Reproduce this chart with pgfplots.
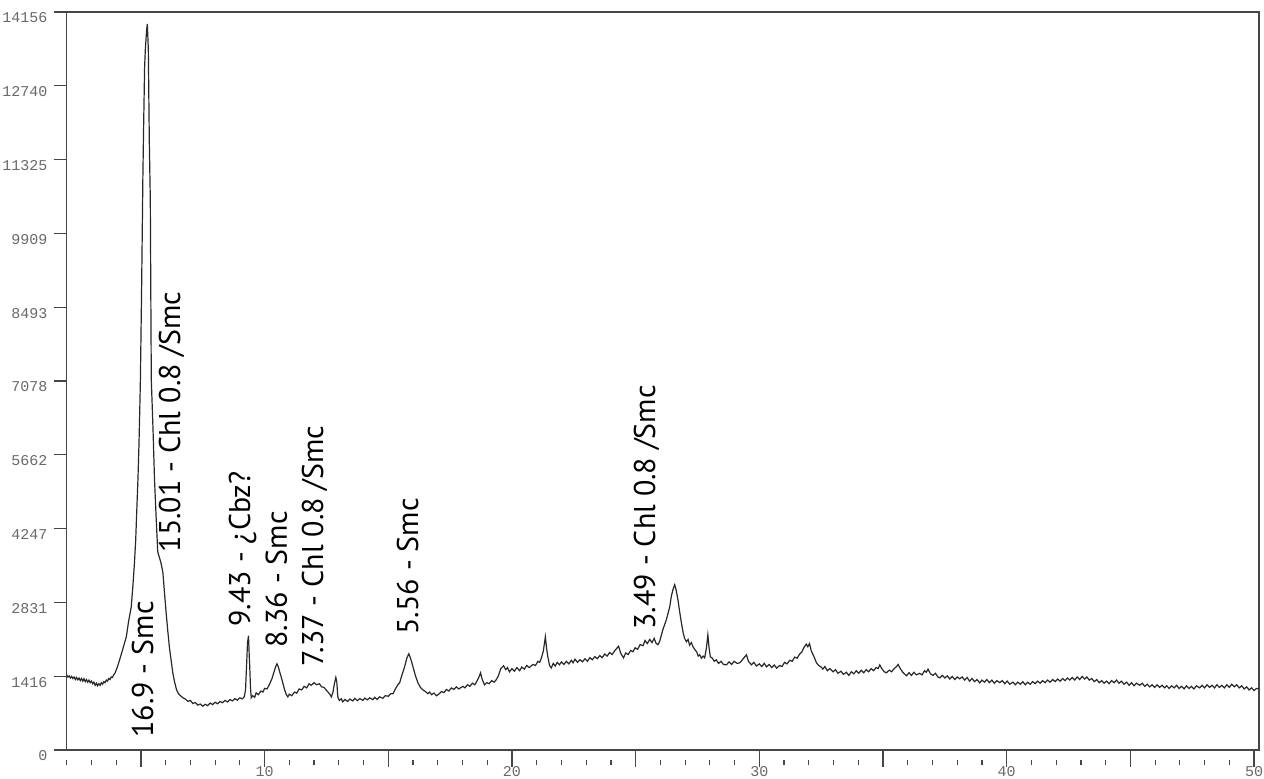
\documentclass[border=0pt]{standalone}
\usepackage{fontspec}
\usepackage{pgfplots}
\usepackage{pgfplotstable}
\pgfplotsset{compat=1.18}
\setmainfont{PT Sans}
\newfontfamily\monof{Liberation Mono}
\definecolor{tickgray}{RGB}{105,105,105}
\definecolor{axgray}{RGB}{70,70,70}
\definecolor{trace}{RGB}{40,40,40}

% 2theta (deg) vs counts
\pgfplotstableread{
x y
2.00 1440
2.05 1395
2.10 1420
2.15 1380
2.20 1410
2.25 1370
2.30 1400
2.35 1350
2.40 1390
2.45 1345
2.50 1380
2.55 1330
2.60 1370
2.65 1320
2.70 1365
2.75 1310
2.80 1350
2.85 1300
2.90 1340
2.95 1290
3.00 1320
3.05 1270
3.10 1300
3.15 1240
3.20 1280
3.25 1230
3.30 1270
3.35 1240
3.40 1290
3.45 1260
3.50 1310
3.55 1290
3.60 1340
3.65 1320
3.70 1370
3.75 1350
3.80 1400
3.85 1390
3.90 1440
3.95 1470
4.00 1530
4.05 1594
4.14 1729
4.26 1921
4.41 2171
4.50 2459
4.61 2747
4.68 3170
4.74 3592
4.79 4034
4.83 4553
4.88 5187
4.92 5821
4.95 6435
4.98 7108
5.03 8900
5.08 11000
5.11 11965
5.15 13100
5.18 13447
5.23 13800
5.26 13927
5.30 13447
5.34 11660
5.38 10566
5.40 8800
5.42 7108
5.49 6147
5.55 5187
5.62 4418
5.68 3804
5.75 3688
5.81 3592
5.89 3400
5.95 3035
6.02 2632
6.09 2267
6.15 1979
6.23 1690
6.29 1479
6.36 1306
6.44 1153
6.52 1076
6.60 1040
6.70 1000
6.80 975
6.90 930
7.00 950
7.10 890
7.20 910
7.30 860
7.40 880
7.50 840
7.60 875
7.70 850
7.80 900
7.90 870
8.00 915
8.10 885
8.20 930
8.30 905
8.40 950
8.50 920
8.60 965
8.70 940
8.80 985
8.90 955
9.00 1000
9.10 980
9.18 1020
9.23 1153
9.27 1600
9.31 2056
9.35 2190
9.38 1800
9.40 1594
9.43 1200
9.46 1000
9.52 1040
9.60 1010
9.66 1095
9.75 1060
9.85 1130
9.93 1110
10.00 1180
10.10 1170
10.20 1260
10.30 1370
10.37 1479
10.45 1600
10.50 1652
10.55 1600
10.62 1480
10.67 1402
10.74 1280
10.81 1153
10.88 1060
10.94 1018
11.00 1070
11.10 1040
11.21 1110
11.30 1090
11.40 1170
11.50 1150
11.60 1220
11.70 1190
11.80 1270
11.89 1240
12.00 1290
12.10 1250
12.22 1270
12.30 1210
12.40 1200
12.49 1150
12.58 1100
12.65 1060
12.70 1018
12.76 1100
12.83 1287
12.88 1390
12.92 1300
12.96 1018
13.02 950
13.10 980
13.16 922
13.25 970
13.35 930
13.45 975
13.57 940
13.65 990
13.75 945
13.85 985
13.97 950
14.05 995
14.15 960
14.25 1000
14.38 965
14.45 1010
14.55 970
14.65 1020
14.78 990
14.88 1040
15.00 1030
15.10 1080
15.19 1076
15.30 1180
15.40 1260
15.46 1287
15.56 1450
15.66 1594
15.75 1760
15.83 1844
15.90 1760
16.00 1594
16.10 1420
16.20 1287
16.30 1200
16.40 1153
16.50 1120
16.60 1080
16.67 1110
16.75 1060
16.85 1090
16.95 1040
17.07 1080
17.15 1120
17.25 1100
17.35 1160
17.45 1130
17.55 1190
17.65 1160
17.75 1210
17.85 1170
18.02 1220
18.10 1190
18.20 1250
18.30 1220
18.40 1280
18.50 1250
18.56 1300
18.65 1380
18.73 1479
18.80 1350
18.89 1249
18.98 1290
19.08 1270
19.18 1330
19.28 1300
19.37 1350
19.45 1420
19.55 1560
19.66 1614
19.75 1540
19.82 1580
19.90 1498
20.00 1560
20.10 1510
20.20 1580
20.31 1520
20.40 1590
20.50 1550
20.60 1620
20.70 1580
20.85 1640
20.95 1620
21.05 1700
21.12 1680
21.19 1760
21.27 1900
21.35 2171
21.40 1950
21.45 1787
21.52 1620
21.59 1575
21.67 1660
21.75 1610
21.83 1680
21.92 1633
22.00 1690
22.10 1640
22.20 1700
22.30 1650
22.40 1720
22.47 1671
22.55 1740
22.65 1680
22.75 1730
22.85 1690
22.95 1750
23.05 1700
23.15 1770
23.25 1730
23.35 1790
23.45 1750
23.55 1810
23.65 1770
23.75 1840
23.85 1800
23.95 1870
24.05 1830
24.15 1900
24.22 1940
24.31 1990
24.40 1850
24.51 1767
24.60 1860
24.70 1830
24.80 1910
24.89 1883
24.98 1960
25.08 1930
25.18 2020
25.30 2000
25.38 2100
25.47 2040
25.57 2120
25.66 2060
25.75 2140
25.82 2050
25.90 2017
25.97 2080
26.04 2200
26.10 2305
26.17 2400
26.24 2497
26.31 2620
26.38 2747
26.44 2939
26.51 3080
26.58 3170
26.64 3060
26.71 2882
26.78 2650
26.85 2440
26.92 2250
26.98 2140
27.05 2075
27.12 2120
27.18 2010
27.25 2060
27.32 1979
27.40 1920
27.47 1880
27.53 1800
27.59 1825
27.66 1760
27.73 1800
27.79 1767
27.86 1950
27.92 2209
27.97 1950
28.02 1787
28.10 1760
28.18 1700
28.26 1729
28.35 1660
28.45 1700
28.55 1640
28.67 1633
28.78 1690
28.88 1640
28.98 1700
29.10 1660
29.21 1671
29.30 1720
29.40 1780
29.48 1825
29.56 1700
29.68 1633
29.78 1680
29.88 1610
30.00 1650
30.10 1600
30.20 1660
30.29 1594
30.40 1640
30.50 1580
30.60 1630
30.70 1570
30.82 1620
30.92 1600
31.02 1680
31.12 1650
31.23 1720
31.33 1700
31.43 1780
31.53 1760
31.63 1840
31.72 1880
31.80 1960
31.90 2030
31.96 1980
32.03 2040
32.10 1900
32.20 1800
32.31 1671
32.40 1620
32.50 1590
32.57 1550
32.65 1600
32.75 1520
32.85 1560
32.98 1498
33.08 1540
33.18 1470
33.30 1510
33.40 1450
33.52 1490
33.62 1430
33.72 1500
33.82 1460
33.92 1520
34.02 1470
34.12 1530
34.22 1480
34.32 1540
34.42 1500
34.52 1560
34.62 1520
34.72 1580
34.80 1560
34.87 1630
34.95 1560
35.05 1500
35.14 1479
35.25 1530
35.35 1500
35.45 1560
35.55 1600
35.61 1640
35.70 1560
35.80 1490
35.95 1422
36.05 1480
36.15 1430
36.25 1490
36.35 1440
36.48 1470
36.58 1440
36.68 1520
36.75 1490
36.82 1550
36.92 1460
37.02 1430
37.12 1470
37.22 1400
37.30 1383
37.40 1430
37.50 1380
37.60 1420
37.70 1360
37.80 1410
37.90 1350
38.00 1400
38.10 1364
38.20 1400
38.30 1340
38.40 1390
38.50 1320
38.60 1370
38.70 1310
38.80 1350
38.91 1287
39.00 1340
39.10 1300
39.20 1350
39.30 1290
39.40 1340
39.50 1280
39.60 1330
39.72 1290
39.82 1330
39.92 1270
40.02 1320
40.12 1260
40.25 1300
40.35 1250
40.45 1300
40.55 1260
40.65 1310
40.75 1250
40.85 1300
40.95 1260
41.05 1310
41.15 1270
41.25 1320
41.35 1280
41.45 1330
41.55 1290
41.65 1340
41.75 1300
41.86 1350
41.96 1310
42.06 1360
42.16 1320
42.26 1370
42.36 1330
42.46 1380
42.55 1340
42.65 1390
42.75 1340
42.85 1400
42.95 1350
43.05 1410
43.15 1360
43.24 1400
43.34 1340
43.44 1370
43.54 1310
43.64 1350
43.74 1290
43.84 1330
43.94 1280
44.04 1320
44.14 1270
44.24 1330
44.34 1290
44.44 1340
44.54 1280
44.64 1320
44.74 1260
44.85 1300
44.95 1240
45.05 1290
45.15 1230
45.25 1280
45.38 1240
45.48 1280
45.58 1220
45.68 1260
45.78 1210
45.88 1250
45.98 1200
46.08 1250
46.18 1200
46.28 1240
46.38 1190
46.47 1230
46.57 1180
46.67 1230
46.77 1190
46.87 1240
46.97 1180
47.07 1220
47.17 1170
47.27 1230
47.37 1180
47.47 1220
47.57 1170
47.67 1230
47.80 1191
47.90 1240
48.00 1190
48.10 1250
48.20 1200
48.30 1240
48.40 1190
48.50 1250
48.60 1200
48.70 1240
48.80 1190
48.90 1250
49.00 1200
49.10 1260
49.20 1210
49.30 1250
49.40 1190
49.50 1230
49.60 1170
49.70 1210
49.80 1150
49.90 1190
50.00 1140
50.10 1180
50.19 1172
}\xrd

\begin{document}
\begin{tikzpicture}
\begin{axis}[
    scale only axis,
    width=596.2pt, height=369pt,
    xmin=2, xmax=50.2,
    ymin=0, ymax=14156,
    axis line style={axgray, line width=0.6pt},
    tick align=outside,
    xtick pos=bottom, ytick pos=left,
    xtick={5,10,...,50},
    xticklabels={,10,,20,,30,,40,,50},
    minor xtick={2,3,...,50},
    minor x tick style={yshift=-5pt},
    ytick={0,1416,2831,4247,5662,7078,8493,9909,11325,12740,14156},
    yticklabels={0,1416,2831,4247,5662,7078,8493,9909,11325,12740,14156},
    minor y tick num=9,
    major tick length=8.5pt,
    major y tick style={/pgfplots/major tick length=6.35pt},
    minor tick length=2.5pt,
    tick style={axgray, line width=0.6pt},
    ticklabel style={font=\monof\fontsize{7.5}{9}\selectfont, text=tickgray},
    yticklabel style={inner sep=1pt, yshift=-3pt},
    xticklabel style={inner sep=0.5pt, yshift=1pt},
    clip=true,
]
\coordinate (ll) at (rel axis cs:0,0);
\coordinate (ur) at (rel axis cs:1,1);
\addplot[trace, line width=0.6pt] table[x=x, y=y] {\xrd};
\begin{scope}[every node/.style={rotate=90, anchor=west, inner sep=0pt, font=\fontsize{15}{18}\selectfont, text=black}]
\node at (axis cs:5.07,230) {16.9 - Smc};
\node at (axis cs:6.24,3784) {15.01 - Chl 0.8 /Smc};
\node at (axis cs:9.11,2363) {9.43 - ¿Cbz?};
\node at (axis cs:10.48,1959) {8.36 - Smc};
\node at (axis cs:12.02,1594) {7.37 - Chl 0.8 /Smc};
\node at (axis cs:15.78,2209) {5.56 - Smc};
\node at (axis cs:25.44,2305) {3.49 - Chl 0.8 /Smc};
\end{scope}
\end{axis}
\pgfresetboundingbox
\path[use as bounding box] ([xshift=-33.35pt,yshift=-14.5pt]ll) rectangle ([xshift=2.5pt,yshift=6pt]ur);
\end{tikzpicture}
\end{document}
